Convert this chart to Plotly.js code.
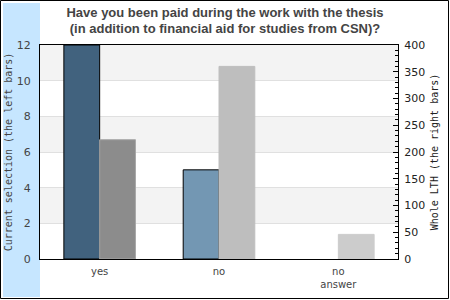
<!DOCTYPE html>
<html><head><meta charset="utf-8">
<script src="https://cdn.plot.ly/plotly-3.0.1.min.js"></script>
<style>html,body{margin:0;padding:0;background:#fff}</style>
</head><body><div id="chart" style="width:450px;height:300px"></div>
<script>
const categories = ['yes', 'no', 'no<br>answer'];
const currentSelection = [12, 5, 0];
const wholeLTH = [223, 360, 46];
const leftColors = ['#41627e', '#7397b3', '#7397b3'];
const rightColors = ['#8c8c8c', '#bebebe', '#cccccc'];
const rightLineColors = ['#a8a8a8', '#bebebe', '#cccccc'];
const leftTicks = [0, 2, 4, 6, 8, 10, 12];

const L = 40, R = 398, T = 45, B = 259;
const px = v => (v - L) / (R - L);
const py = v => (B - v) / (B - T);

const shapes = [];
for (let i = 0; i < leftTicks.length - 1; i++) {
  if (i % 2 === 1) {
    shapes.push({type:'rect', xref:'paper', yref:'y', x0:0, x1:1, y0:leftTicks[i], y1:leftTicks[i+1],
      fillcolor:'#f3f3f3', line:{width:0}, layer:'below'});
  }
}
shapes.push({type:'rect', xref:'paper', yref:'paper', x0:px(3), x1:px(40), y0:py(297), y1:py(3),
  fillcolor:'#c6e6ff', line:{width:0}, layer:'below'});
shapes.push({type:'rect', xref:'paper', yref:'paper', x0:px(0.5), x1:px(448.5), y0:py(298.5), y1:py(0.5),
  fillcolor:'rgba(0,0,0,0)', line:{width:1, color:'#000'}, layer:'above'});

const leftLineWidths = currentSelection.map(v => v > 0 ? 1 : 0);

const traces = [
  {type:'bar', x:categories, y:currentSelection, yaxis:'y', width:0.3, offset:-0.3,
   marker:{color:leftColors, line:{color:'#000', width:leftLineWidths}}, hoverinfo:'none'},
  {type:'bar', x:categories, y:wholeLTH, yaxis:'y2', width:0.3, offset:0,
   marker:{color:rightColors, line:{color:rightLineColors, width:1}}, hoverinfo:'none'}
];

const layout = {
  width:450, height:300,
  margin:{l:L, r:450-R, t:T, b:300-B, pad:0},
  paper_bgcolor:'rgba(0,0,0,0)', plot_bgcolor:'#fff',
  showlegend:false,
  title:{text:'<b>Have you been paid during the work with the thesis<br>(in addition to financial aid for studies from CSN)?</b>',
    font:{family:'Liberation Sans, Arial', size:13, color:'#444'}, x:0.5, xanchor:'center', y:0.945, yanchor:'top'},
  xaxis:{type:'category', showgrid:false, showline:true, linecolor:'#000', linewidth:1, mirror:true,
    ticks:'', tickfont:{family:'DejaVu Sans', size:10, color:'#444'}, ticklabelstandoff:3,
    range:[-0.5, 2.5], fixedrange:true},
  yaxis:{range:[0,12], tickvals:leftTicks, showgrid:true, gridcolor:'#e0e0e0', gridwidth:1,
    showline:true, linecolor:'#000', linewidth:1, ticks:'', zeroline:false,
    tickfont:{family:'DejaVu Sans', size:11, color:'#444'}, ticklabelstandoff:6,
    title:{text:'Current selection (the left bars)', font:{family:'DejaVu Sans Mono', size:10, color:'#444'}, standoff:2}},
  yaxis2:{range:[0,400], dtick:50, overlaying:'y', side:'right', showgrid:false, zeroline:false,
    showline:true, linecolor:'#000', linewidth:1, ticks:'inside', ticklen:5, tickcolor:'#000',
    minor:{dtick:10, ticks:'inside', ticklen:3, tickcolor:'#000'},
    tickfont:{family:'DejaVu Sans', size:11, color:'#222'}, ticklabelstandoff:3,
    title:{text:'Whole LTH (the right bars)', font:{family:'DejaVu Sans Mono', size:10, color:'#222'}, standoff:6}},
  shapes:shapes
};
Plotly.newPlot('chart', traces, layout, {staticPlot:true, displayModeBar:false});
</script></body></html>
